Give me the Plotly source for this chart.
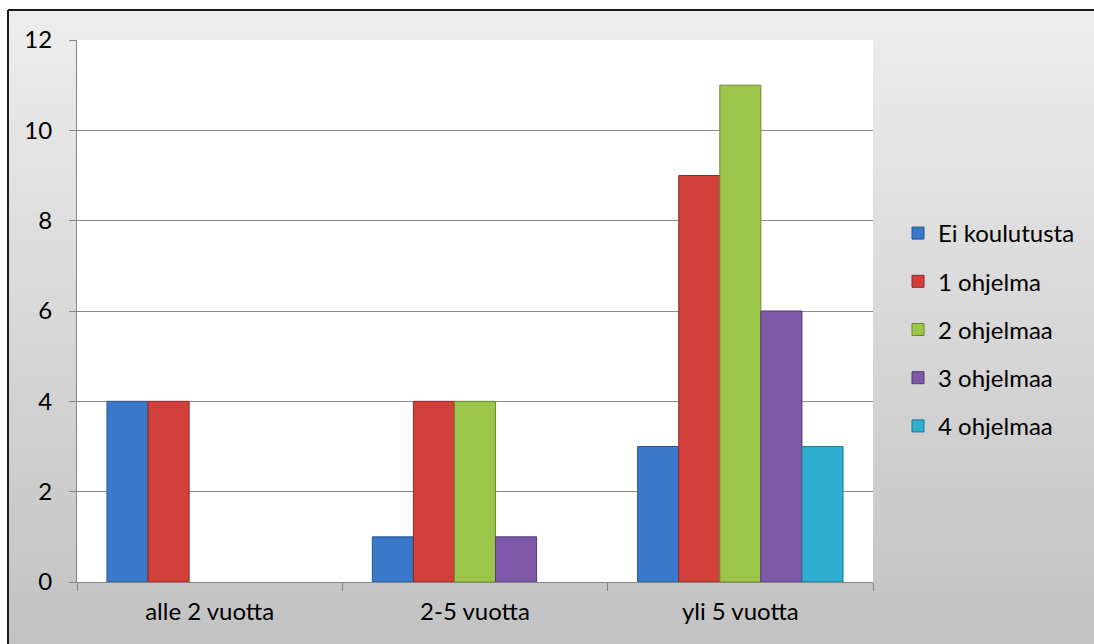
import plotly.graph_objects as go

# Chart data
categories = ["alle 2 vuotta", "2-5 vuotta", "yli 5 vuotta"]
series_names = ["Ei koulutusta", "1 ohjelma", "2 ohjelmaa", "3 ohjelmaa", "4 ohjelmaa"]
ei_koulutusta = [4, 1, 3]
yksi_ohjelma = [4, 4, 9]
kaksi_ohjelmaa = [None, 4, 11]
kolme_ohjelmaa = [None, 1, 6]
nelja_ohjelmaa = [None, None, 3]
y_ticks = [0, 2, 4, 6, 8, 10, 12]

series_values = [ei_koulutusta, yksi_ohjelma, kaksi_ohjelmaa, kolme_ohjelmaa, nelja_ohjelmaa]
fill_colors = ["#3a78c9", "#d3403c", "#9cc64a", "#7f58a8", "#2eaed0"]
edge_colors = ["#27568f", "#8c2a27", "#6a8a2c", "#533a78", "#1e7893"]

FONT = "Lato"
FS = 24
W, H = 1094, 644
L, R, T, B = 77, 221, 40, 62
PW, PH = W - L - R, H - T - B


def px_x(px):
    return (px - L) / PW


def px_y(py):
    return (H - B - py) / PH


fig = go.Figure()
for name, vals, fc, ec in zip(series_names, series_values, fill_colors, edge_colors):
    fig.add_trace(go.Bar(
        name=name,
        x=categories,
        y=vals,
        legendgroup=name,
        marker=dict(color=fc, line=dict(color=ec, width=1)),
    ))

# soft grey vertical gradient for the chart area, built from thin bands
shapes = []
top_px, bot_px, n_bands = 10, H, 80
c_top, c_bot = 237, 194
for i in range(n_bands):
    y0 = top_px + (bot_px - top_px) * i / n_bands
    y1 = top_px + (bot_px - top_px) * (i + 1) / n_bands + 0.6
    t = (i + 0.5) / n_bands
    g = round(c_top + (c_bot - c_top) * t)
    shapes.append(dict(
        type="rect", xref="paper", yref="paper",
        x0=px_x(8), x1=px_x(W), y0=px_y(min(y1, H)), y1=px_y(y0),
        fillcolor=f"rgb({g},{g},{g})", line=dict(width=0), layer="below",
    ))

shapes += [
    # white plotting area over the gradient
    dict(type="rect", xref="paper", yref="paper", x0=0, x1=1, y0=0, y1=1,
         fillcolor="white", line=dict(width=0), layer="below"),
    # chart frame (top and left edges)
    dict(type="line", xref="paper", yref="paper", x0=px_x(8), x1=px_x(W),
         y0=px_y(10), y1=px_y(10), line=dict(color="#1c1c1c", width=2)),
    dict(type="line", xref="paper", yref="paper", x0=px_x(8), x1=px_x(8),
         y0=px_y(10), y1=px_y(H), line=dict(color="#1c1c1c", width=2)),
]

fig.update_layout(
    width=W, height=H,
    margin=dict(l=L, r=R, t=T, b=B, pad=0),
    paper_bgcolor="white",
    plot_bgcolor="white",
    barmode="group",
    bargap=0.226,
    bargroupgap=0,
    shapes=shapes,
    font=dict(family=FONT, size=FS, color="#000000"),
    showlegend=True,
    legend=dict(
        x=px_x(898), y=px_y(211), xanchor="left", yanchor="top",
        xref="paper", yref="paper",
        bgcolor="rgba(0,0,0,0)", borderwidth=0,
        traceorder="grouped", tracegroupgap=14,
        font=dict(family=FONT, size=FS, color="#000000"),
    ),
    xaxis=dict(
        showline=True, linecolor="#868686", linewidth=1,
        ticks="outside", tickson="boundaries", ticklen=8, tickcolor="#868686",
        showgrid=False, tickfont=dict(family=FONT, size=FS),
        ticklabelstandoff=8,
    ),
    yaxis=dict(
        range=[0, 12], tickvals=y_ticks,
        showline=True, linecolor="#868686", linewidth=1,
        ticks="outside", ticklen=7, tickcolor="#868686",
        showgrid=True, gridcolor="#8a8a8a", gridwidth=1,
        zeroline=False, tickfont=dict(family=FONT, size=FS),
        ticklabelstandoff=12,
    ),
)

fig.write_html(
    "out.html",
    post_script="document.documentElement.style.overflow='hidden';"
                "document.body.style.overflow='hidden';",
)
